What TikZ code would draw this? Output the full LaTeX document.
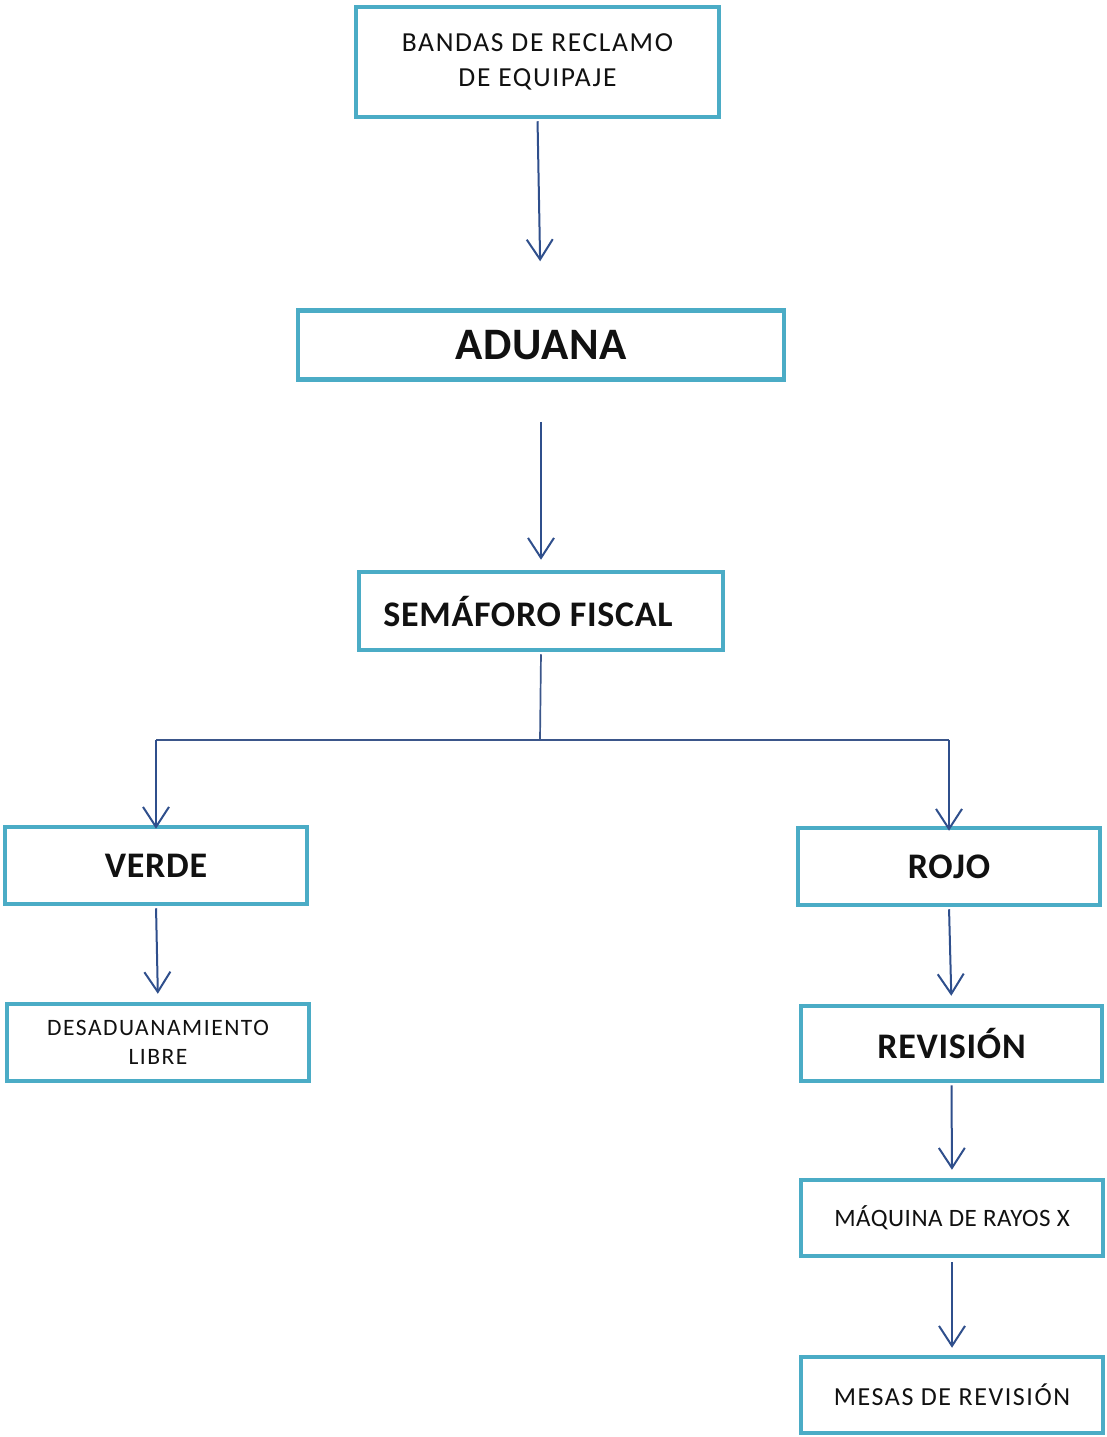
\documentclass[tikz,border=0pt]{standalone}
\usepackage{fontspec}
\setmainfont{Carlito}
\usetikzlibrary{arrows.meta}
\definecolor{boxblue}{HTML}{4BACC6}
\definecolor{arrblue}{HTML}{2F4F8C}
\definecolor{txt}{HTML}{111111}
\begin{document}
\begin{tikzpicture}[x=1pt,y=-1pt,
  box/.style={draw=boxblue,line width=4.5pt,fill=white,rectangle,inner sep=0pt,
    align=center,text=txt},
  bigt/.style={font=\fontsize{36}{40}\selectfont\bfseries\addfontfeatures{LetterSpace=2}},
  smallt/.style={font=\fontsize{26}{30}\selectfont},
  arr/.style={draw=arrblue,line width=2pt,-{Straight Barb[length=20pt,width=26pt,line width=2pt]}},
  tee/.style={draw=arrblue!85!gray,line width=1.7pt}
]
\useasboundingbox (0,0) rectangle (1107,1437);
\node[box,minimum width=363pt,minimum height=110pt,
  font=\fontsize{27.5}{35}\selectfont\addfontfeatures{LetterSpace=6}] (bandas) at (537.5,62) {BANDAS DE RECLAMO\\DE EQUIPAJE};
\node[box,minimum width=486pt,minimum height=69pt,
  font=\fontsize{45}{48}\selectfont\bfseries\addfontfeatures{LetterSpace=1.5}] (aduana) at (541,345) {ADUANA};
\node[box,bigt,minimum width=364pt,minimum height=78pt] (semaforo) at (541,611) {\hspace*{-26pt}SEMÁFORO FISCAL};
\node[box,bigt,minimum width=302pt,minimum height=77pt] (verde) at (156,865.5) {VERDE};
\node[box,minimum width=302pt,minimum height=77pt,
  font=\fontsize{23.5}{29}\selectfont\addfontfeatures{LetterSpace=6.5}] (desad) at (158,1042.5) {DESADUANAMIENTO\\LIBRE};
\node[box,bigt,minimum width=302pt,minimum height=77pt] (rojo) at (949,866.5) {ROJO};
\node[box,bigt,minimum width=301pt,minimum height=75pt] (revision) at (951.5,1043.5) {REVISIÓN};
\node[box,minimum width=302pt,minimum height=76pt,
  font=\fontsize{25}{30}\selectfont\addfontfeatures{LetterSpace=2}] (maquina) at (952,1218) {MÁQUINA DE RAYOS X};
\node[box,minimum width=302pt,minimum height=76pt,
  font=\fontsize{26}{30}\selectfont\addfontfeatures{LetterSpace=6}] (mesas) at (952,1395) {MESAS DE REVISIÓN};
\coordinate (split) at (540,740);
\draw[arr,shorten <=2pt,shorten >=47pt] (bandas.south) -- (aduana.north);
\draw[arr,shorten <=40pt,shorten >=10pt] (aduana.south) -- (semaforo.north);
\draw[tee,shorten <=2pt] (semaforo.south) -- (split);
\draw[tee] (split) -- (verde.north |- split) -- (rojo.north |- split);
\draw[arr] (verde.north |- split) -- ([yshift=-4pt]verde.north);
\draw[arr] (rojo.north |- split) -- ([yshift=-5pt]rojo.north);
\draw[arr,shorten <=2pt,shorten >=8pt] (verde.south) -- (desad.north);
\draw[arr,shorten <=2pt,shorten >=8pt] (rojo.south) -- (revision.north);
\draw[arr,shorten <=2pt,shorten >=8pt] (revision.south) -- (maquina.north);
\draw[arr,shorten <=4pt,shorten >=7pt] (maquina.south) -- (mesas.north);
\end{tikzpicture}
\end{document}
